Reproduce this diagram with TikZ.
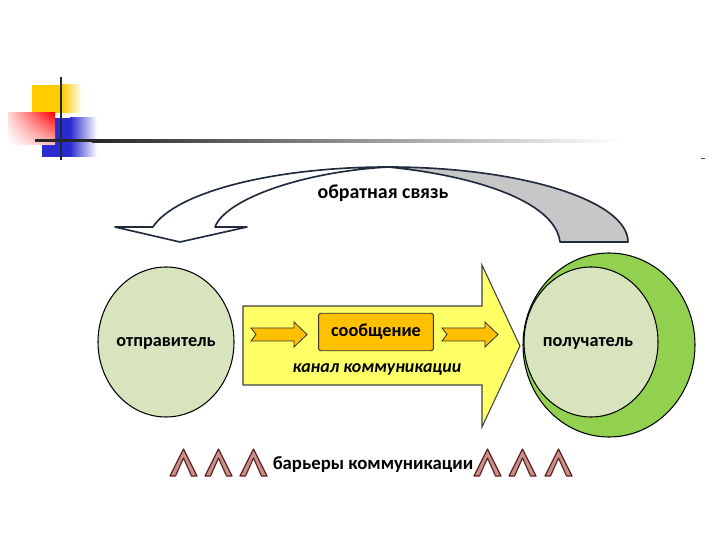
\documentclass[tikz,border=0pt]{standalone}
\usepackage{fontspec}
\setmainfont{Carlito}
\usetikzlibrary{shadings}
\definecolor{pale}{HTML}{D7E4BD}
\definecolor{leaf}{HTML}{92D050}
\definecolor{lemon}{HTML}{FFFF66}
\definecolor{amber}{HTML}{FFC000}
\definecolor{ink}{HTML}{1F2A3C}
\definecolor{wine}{HTML}{5E2424}
\definecolor{rose}{HTML}{C98F8A}
\definecolor{gold}{HTML}{FFCC00}
\definecolor{royal}{HTML}{2B2BD0}

\begin{document}
\begin{tikzpicture}[x = 0.03cm, y = 0.03cm, line width = 0.9pt,
                        lbl/.style = {font = \fontsize{15.6}{18}\selectfont\bfseries, inner sep = 0pt},
                        blob/.style = {draw = black, fill = pale},
                        notch/.style = {draw = black!80, fill = amber, line width = 0.7pt},
                        barrier/.style = {draw = wine, fill = rose, line width = 1pt, line join = round}]
      \useasboundingbox (0, 0) rectangle (720, -540);
      % logo
      \fill [gold] (32, -85) rectangle (62, -113);
      \shade [left color = gold, right color = white] (62, -85) rectangle (82, -113);
      \fill [royal] (42, -118) rectangle (70, -157);
      \shade [left color = royal, right color = white] (70, -118) rectangle (97, -157);
      \shade [upper right = red, upper left = red!15, lower right = red!25, lower left = white] (8, -113) rectangle (55, -145);
      \fill [black!85] (35, -139.5) rectangle (92, -142.5);
      \shade [left color = black!85, right color = white] (92, -139.5) rectangle (620, -142.5);
      \draw [line width = 2.5pt, ink] (61, -77) -- (61, -160);
      \draw [line width = 0.6pt, black!70] (701, -158) -- (705, -158);
      % feedback
      \filldraw [draw = ink, fill = black!22, line width = 1.4pt, line join = round]
        (628, -242) arc [start angle = 0, end angle = 90, x radius = 240, y radius = 75]
        .. controls (470, -175) and (555, -200) .. (560, -242) -- cycle;
      \filldraw [draw = ink, fill = white, line width = 1.4pt, line join = round]
        (388, -167) arc [start angle = 90, end angle = 168.5, x radius = 240, y radius = 75]
        -- (115, -227) -- (180, -242) -- (247, -227) -- (215, -227)
        .. controls (225, -200) and (300, -172) .. (388, -167) -- cycle;
      \node [lbl, font = \fontsize{17}{20}\selectfont\bfseries] (feedback) at (383, -193) {обратная связь};
      % channel
      \filldraw [draw = black!75, fill = lemon] (243, -306) -- (482, -306) -- (482, -265) -- (520, -346)
        -- (482, -427) -- (482, -385) -- (243, -385) -- cycle;
      \foreach \x in {251, 442}
        \filldraw [notch] (\x, -328) -- ++(43, 0) -- ++(0, 6) -- ++(13, -12.5) -- ++(-13, -12.5)
          -- ++(0, 6) -- ++(-43, 0) -- ++(5, 6.5) -- cycle;
      \node [lbl, draw = black!80, fill = amber, rounded corners = 2pt, line width = 0.8pt,
             minimum width = 98pt, minimum height = 32pt] (message) at (376, -332) {сообщение};
      \node [lbl, font = \fontsize{15.3}{18}\selectfont\bfseries\itshape] (channel) at (377, -370) {канал коммуникации};
      % sender and receiver
      \filldraw [blob] (166, -342) ellipse [x radius = 68, y radius = 75];
      \node [lbl] (sender) at (166, -343) {отправитель};
      \filldraw [draw = black, fill = leaf] (609, -345) ellipse [x radius = 86, y radius = 92];
      \filldraw [blob] (591, -342) ellipse [x radius = 67, y radius = 75];
      \node [lbl] (receiver) at (588, -343) {получатель};
      % barriers
      \foreach \x in {170, 205, 240, 474, 509, 545}
        \filldraw [barrier] (\x, -476) -- ++(13.5, 27) -- ++(13.5, -27) -- ++(-5.5, 0)
          -- ++(-8, 18) -- ++(-8, -18) -- cycle;
      \node [lbl, font = \fontsize{16}{19}\selectfont\bfseries] (barriers) at (373, -465) {барьеры коммуникации};
    \end{tikzpicture}
\end{document}
